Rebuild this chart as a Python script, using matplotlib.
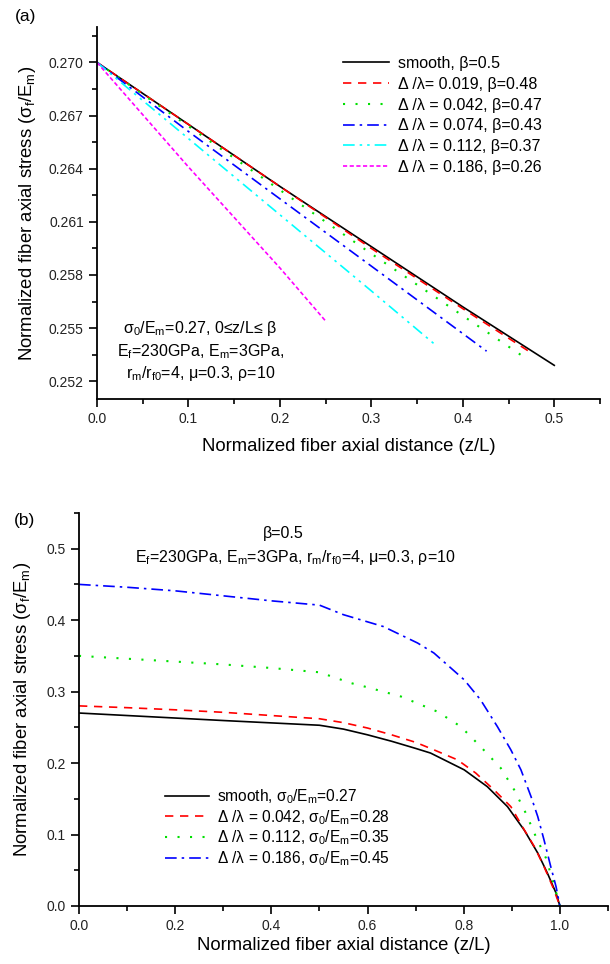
import matplotlib
matplotlib.use('Agg')
import matplotlib.pyplot as plt
from matplotlib.ticker import MultipleLocator, FormatStrFormatter

plt.rcParams['font.family'] = ['Liberation Sans', 'DejaVu Sans']
plt.rcParams['mathtext.default'] = 'regular'
plt.rcParams['mathtext.fontset'] = 'custom'
plt.rcParams['mathtext.rm'] = 'Liberation Sans'

# ---- panel (a) data: fiber stress over 0 <= z/L <= beta ----
za_smooth = [0, 0.1, 0.2, 0.3, 0.4, 0.5]
sa_smooth = [0.2700, 0.2665, 0.2630, 0.2596, 0.2562, 0.2529]
za_019 = [0, 0.1, 0.2, 0.3, 0.4, 0.475]
sa_019 = [0.2700, 0.2665, 0.2630, 0.2595, 0.2561, 0.2536]
za_042 = [0, 0.1, 0.2, 0.3, 0.4, 0.466]
sa_042 = [0.2700, 0.2664, 0.2628, 0.2592, 0.2557, 0.2534]
za_074 = [0, 0.1, 0.2, 0.3, 0.426]
sa_074 = [0.2700, 0.2661, 0.2623, 0.2585, 0.2537]
za_112 = [0, 0.1, 0.2, 0.3, 0.369]
sa_112 = [0.2700, 0.2657, 0.2614, 0.2571, 0.2541]
za_186 = [0, 0.1, 0.2, 0.25]
sa_186 = [0.2700, 0.2641, 0.2584, 0.2554]

labels_a = ['smooth, β=0.5',
            'Δ /λ= 0.019, β=0.48',
            'Δ /λ = 0.042, β=0.47',
            'Δ /λ = 0.074, β=0.43',
            'Δ /λ = 0.112, β=0.37',
            'Δ /λ = 0.186, β=0.26']

# ---- panel (b) data: full length, beta = 0.5 ----
zb_smooth = [0, 0.1, 0.2, 0.3, 0.4, 0.5, 0.55, 0.6, 0.65, 0.7, 0.731, 0.801, 0.849,
             0.891, 0.926, 0.954, 0.974, 0.992, 1.0]
sb_smooth = [0.270, 0.2665, 0.263, 0.2595, 0.2562, 0.2529, 0.2475, 0.2395, 0.2305,
             0.2205, 0.214, 0.1905, 0.167, 0.139, 0.106, 0.074, 0.046, 0.018, 0.0]
zb_042 = [0, 0.1, 0.2, 0.3, 0.4, 0.5, 0.55, 0.6, 0.65, 0.7, 0.738, 0.787, 0.825,
          0.863, 0.898, 0.926, 0.947, 0.967, 0.985, 1.0]
sb_042 = [0.280, 0.2775, 0.2745, 0.271, 0.2665, 0.262, 0.2565, 0.249, 0.2395, 0.229,
          0.2185, 0.2045, 0.186, 0.1625, 0.139, 0.1064, 0.083, 0.055, 0.027, 0.0]
zb_112 = [0, 0.1, 0.2, 0.3, 0.4, 0.5, 0.565, 0.6, 0.67, 0.745, 0.794, 0.835, 0.877,
          0.905, 0.929, 0.95, 0.971, 0.985, 1.0]
sb_112 = [0.350, 0.346, 0.342, 0.338, 0.333, 0.327, 0.312, 0.306, 0.293, 0.272,
          0.251, 0.223, 0.193, 0.1625, 0.130, 0.097, 0.067, 0.036, 0.0]
zb_186 = [0, 0.1, 0.2, 0.3, 0.4, 0.5, 0.55, 0.633, 0.704, 0.738, 0.801, 0.835, 0.870,
          0.898, 0.919, 0.940, 0.954, 0.967, 0.981, 0.992, 1.0]
sb_186 = [0.450, 0.446, 0.441, 0.434, 0.427, 0.421, 0.4076, 0.391, 0.368, 0.354,
          0.3165, 0.2885, 0.251, 0.2185, 0.1905, 0.153, 0.125, 0.0924, 0.055, 0.027, 0.0]

labels_b = ['smooth, σ$_0$/E$_m$=0.27',
            'Δ /λ = 0.042, σ$_0$/E$_m$=0.28',
            'Δ /λ = 0.112, σ$_0$/E$_m$=0.35',
            'Δ /λ = 0.186, σ$_0$/E$_m$=0.45']

# line styles
st_solid = dict(color='black', linestyle='-')
st_red = dict(color='#ff0000', linestyle=(0, (5, 4)))
st_green = dict(color='#00e000', linestyle=(0, (1, 5)))
st_blue = dict(color='#0000ff', linestyle=(0, (7, 3, 1.5, 3)))
st_cyan = dict(color='#00ffff', linestyle=(0, (7, 3, 1.5, 3, 1.5, 3)))
st_mag = dict(color='#ff00ff', linestyle=(0, (2.5, 1.5)))

tick_col = '#222222'


def style_axes(ax):
    ax.spines['top'].set_visible(False)
    ax.spines['right'].set_visible(False)
    for s in ('left', 'bottom'):
        ax.spines[s].set_linewidth(1.3)
    ax.tick_params(which='major', direction='out', length=6, width=1.2,
                   labelsize=10, labelcolor=tick_col)
    ax.tick_params(which='minor', direction='out', length=3.5, width=1.2)


fig = plt.figure(figsize=(6.1, 9.64), dpi=100)

# ---------------- (a) ----------------
ax1 = fig.add_axes([0.159, 0.5861, 0.8246, 0.3859])
lw = 1.2
ax1.plot(za_smooth, sa_smooth, lw=lw, label=labels_a[0], **st_solid)
ax1.plot(za_019, sa_019, lw=lw, label=labels_a[1], **st_red)
ax1.plot(za_042, sa_042, lw=lw + 0.3, label=labels_a[2], **st_green)
ax1.plot(za_074, sa_074, lw=lw, label=labels_a[3], **st_blue)
ax1.plot(za_112, sa_112, lw=lw, label=labels_a[4], **st_cyan)
ax1.plot(za_186, sa_186, lw=lw, label=labels_a[5], **st_mag)
ax1.set_xlim(0, 0.55)
ax1.set_ylim(0.251, 0.272)
ax1.xaxis.set_minor_locator(MultipleLocator(0.05))
ax1.yaxis.set_minor_locator(MultipleLocator(0.0015))
ax1.yaxis.set_major_formatter(FormatStrFormatter('%.3f'))
ax1.xaxis.set_major_formatter(FormatStrFormatter('%.1f'))
ax1.set_yticks([0.252, 0.255, 0.258, 0.261, 0.264, 0.267, 0.270])
ax1.set_xticks([0, 0.1, 0.2, 0.3, 0.4, 0.5])
style_axes(ax1)
ax1.set_xlabel('Normalized fiber axial distance (z/L)', fontsize=13.3)
ax1.set_ylabel('Normalized fiber axial stress (σ$_f$/E$_m$)', fontsize=13.3)
ax1.xaxis.set_label_coords(0.5, -0.105)
ax1.yaxis.set_label_coords(-0.118, 0.5)
ax1.legend(loc='upper left', bbox_to_anchor=(0.489, 0.922), frameon=False,
           fontsize=11.5, handlelength=2.9, handletextpad=0.55, labelspacing=0.36,
           borderpad=0, borderaxespad=0)
ax1.text(0.113, 0.2537, 'σ$_0$/E$_m$=0.27, 0≤z/L≤ β\nE$_f$=230GPa, E$_m$=3GPa,\n'
         'r$_m$/r$_{f0}$=4, μ=0.3, ρ=10', ha='center', va='center',
         fontsize=11.5, linespacing=1.25)
fig.text(26 / 610, 1 - 16 / 964, '(a)', fontsize=12.5, ha='center', va='center')

# ---------------- (b) ----------------
ax2 = fig.add_axes([0.1295, 0.0602, 0.8672, 0.4077])
ax2.plot(zb_smooth, sb_smooth, lw=lw, label=labels_b[0], **st_solid)
ax2.plot(zb_042, sb_042, lw=lw, label=labels_b[1], **st_red)
ax2.plot(zb_112, sb_112, lw=lw + 0.3, label=labels_b[2], **st_green)
ax2.plot(zb_186, sb_186, lw=lw, label=labels_b[3], **st_blue)
ax2.set_xlim(0, 1.1)
ax2.set_ylim(0, 0.55)
ax2.xaxis.set_minor_locator(MultipleLocator(0.1))
ax2.yaxis.set_minor_locator(MultipleLocator(0.05))
ax2.xaxis.set_major_formatter(FormatStrFormatter('%.1f'))
ax2.yaxis.set_major_formatter(FormatStrFormatter('%.1f'))
ax2.set_xticks([0, 0.2, 0.4, 0.6, 0.8, 1.0])
ax2.set_yticks([0, 0.1, 0.2, 0.3, 0.4, 0.5])
style_axes(ax2)
ax2.set_xlabel('Normalized fiber axial distance (z/L)', fontsize=13.3)
ax2.set_ylabel('Normalized fiber axial stress (σ$_f$/E$_m$)', fontsize=13.3)
ax2.xaxis.set_label_coords(0.5, -0.078)
ax2.yaxis.set_label_coords(-0.087, 0.5)
ax2.legend(loc='upper left', bbox_to_anchor=(0.163, 0.302), frameon=False,
           fontsize=11.2, handlelength=2.8, handletextpad=0.55, labelspacing=0.12,
           borderpad=0, borderaxespad=0)
ax2.text(0.386, 0.947, 'β=0.5', ha='center', va='center', fontsize=11.5,
         transform=ax2.transAxes)
ax2.text(0.408, 0.886, 'E$_f$=230GPa, E$_m$=3GPa, r$_m$/r$_{f0}$=4, μ=0.3, ρ=10',
         ha='center', va='center', fontsize=11.5, transform=ax2.transAxes)
fig.text(24 / 610, 1 - 521 / 964, '(b)', fontsize=12.5, ha='center', va='center')

fig.savefig('out.png', dpi=100)
